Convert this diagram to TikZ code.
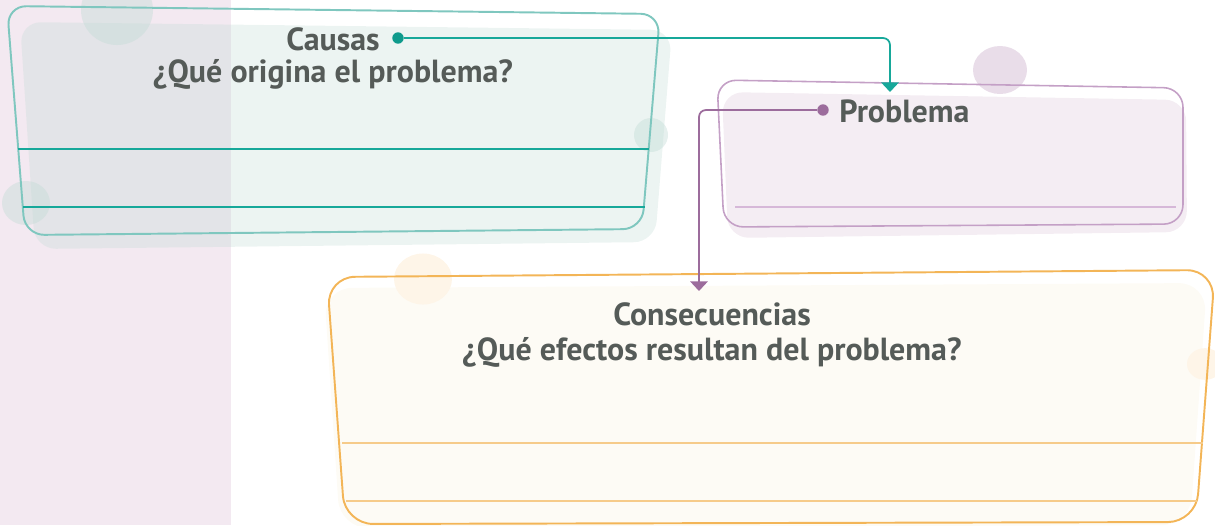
\documentclass[tikz,border=0pt]{standalone}
\usepackage{fontspec}
\setmainfont{PT Sans}
\usepackage{xcolor}
\usetikzlibrary{arrows.meta,calc}

\definecolor{pinkbg}{RGB}{243,233,241}
\definecolor{txtgray}{RGB}{85,91,88}
\definecolor{tealfill}{RGB}{192,218,212}
\definecolor{tealedge}{RGB}{127,199,191}
\definecolor{tealrule}{RGB}{23,168,154}
\definecolor{tealdot}{RGB}{14,154,140}
\definecolor{purpfill}{RGB}{244,237,243}
\definecolor{purpedge}{RGB}{196,160,198}
\definecolor{purprule}{RGB}{214,184,216}
\definecolor{purpdot}{RGB}{156,108,156}
\definecolor{purpblob}{RGB}{233,221,233}
\definecolor{orfill}{RGB}{253,251,245}
\definecolor{oredge}{RGB}{243,181,87}
\definecolor{orrule}{RGB}{246,203,138}
\definecolor{orblob}{RGB}{254,245,232}

\begin{document}
\begin{tikzpicture}[x=0.02cm,y=-0.02cm,
    title/.style={inner sep=0pt,text=txtgray,font=\fontsize{18.2pt}{20pt}\selectfont\bfseries},
    dot/.style={circle,inner sep=0pt,minimum size=6.5pt},
    edge/.style={line width=1.1pt,rounded corners=11pt},
    rule/.style={line width=1.5pt},
    link/.style={line width=1pt,rounded corners=4pt,-{Triangle[width=10pt,length=5.5pt]}}]
    \useasboundingbox (0,0) rectangle (1215,525);
    \clip (0,0) rectangle (1215,525);
    \fill[pinkbg] (0,0) rectangle (231,525);
    % causas
    \fill[tealfill,fill opacity=0.3,rounded corners=12pt] (20,22) -- (672,30) -- (655,242) -- (35,249) -- cycle;
    \foreach \c/\rx/\ry in {{117,10}/36/35,{26,203}/24/22,{651,135}/17/17}
      {\fill[tealfill,fill opacity=0.4] (\c) ellipse [x radius=\rx,y radius=\ry];}
    \draw[edge,tealedge] (7,6) -- (660,14) -- (642,229) -- (25,235) -- cycle;
    \draw[rule,tealrule] (18,149) -- (649,149);
    \draw[rule,tealrule] (23,207) -- (645,207);
    % problema
    \fill[purpfill,rounded corners=12pt] (722,92) -- (1186,100) -- (1187,232) -- (728,238) -- cycle;
    \fill[purpblob] (1000,70) ellipse [x radius=27,y radius=24];
    \draw[edge,purpedge,line width=0.9pt] (717,80) -- (1183,88) -- (1183,224) -- (724,227) -- cycle;
    \draw[rule,purprule] (735,207) -- (1176,207);
    % consecuencias
    \fill[orfill,rounded corners=16pt] (324,288) -- (1207,283) -- (1190,525) -- (340,528) -- cycle;
    \foreach \c/\r in {{423,279}/29,{1205,364}/18}
      {\fill[orblob] (\c) ellipse [x radius=\r,y radius=\r*0.88];}
    \draw[edge,oredge,rounded corners=16pt] (327,277) -- (1215,270) -- (1196,522) -- (345,524) -- cycle;
    \draw[rule,orrule] (342,443) -- (1203,443);
    \draw[rule,orrule] (346,501) -- (1197,501);
    % textos
    \node[title,anchor=base] (causas) at (333,50) {Causas};
    \node[title,anchor=base] (causasq) at (333,82) {¿Qué origina el problema?};
    \node[title,anchor=base west] (problema) at (839,122) {Problema};
    \node[title,anchor=base] (cons) at (712,325) {Consecuencias};
    \node[title,anchor=base] (consq) at (712,360) {¿Qué efectos resultan del problema?};
    % conectores
    \node[dot,fill=tealdot] (cdot) at (398,38) {};
    \node[dot,fill=purpdot] (pdot) at (823,110) {};
    \coordinate (ptop) at (890,92);
    \coordinate (ctop) at (699,291);
    \draw[link,tealrule] (cdot) -| (ptop);
    \draw[link,purpdot] (pdot) -| (ctop);
\end{tikzpicture}
\end{document}
